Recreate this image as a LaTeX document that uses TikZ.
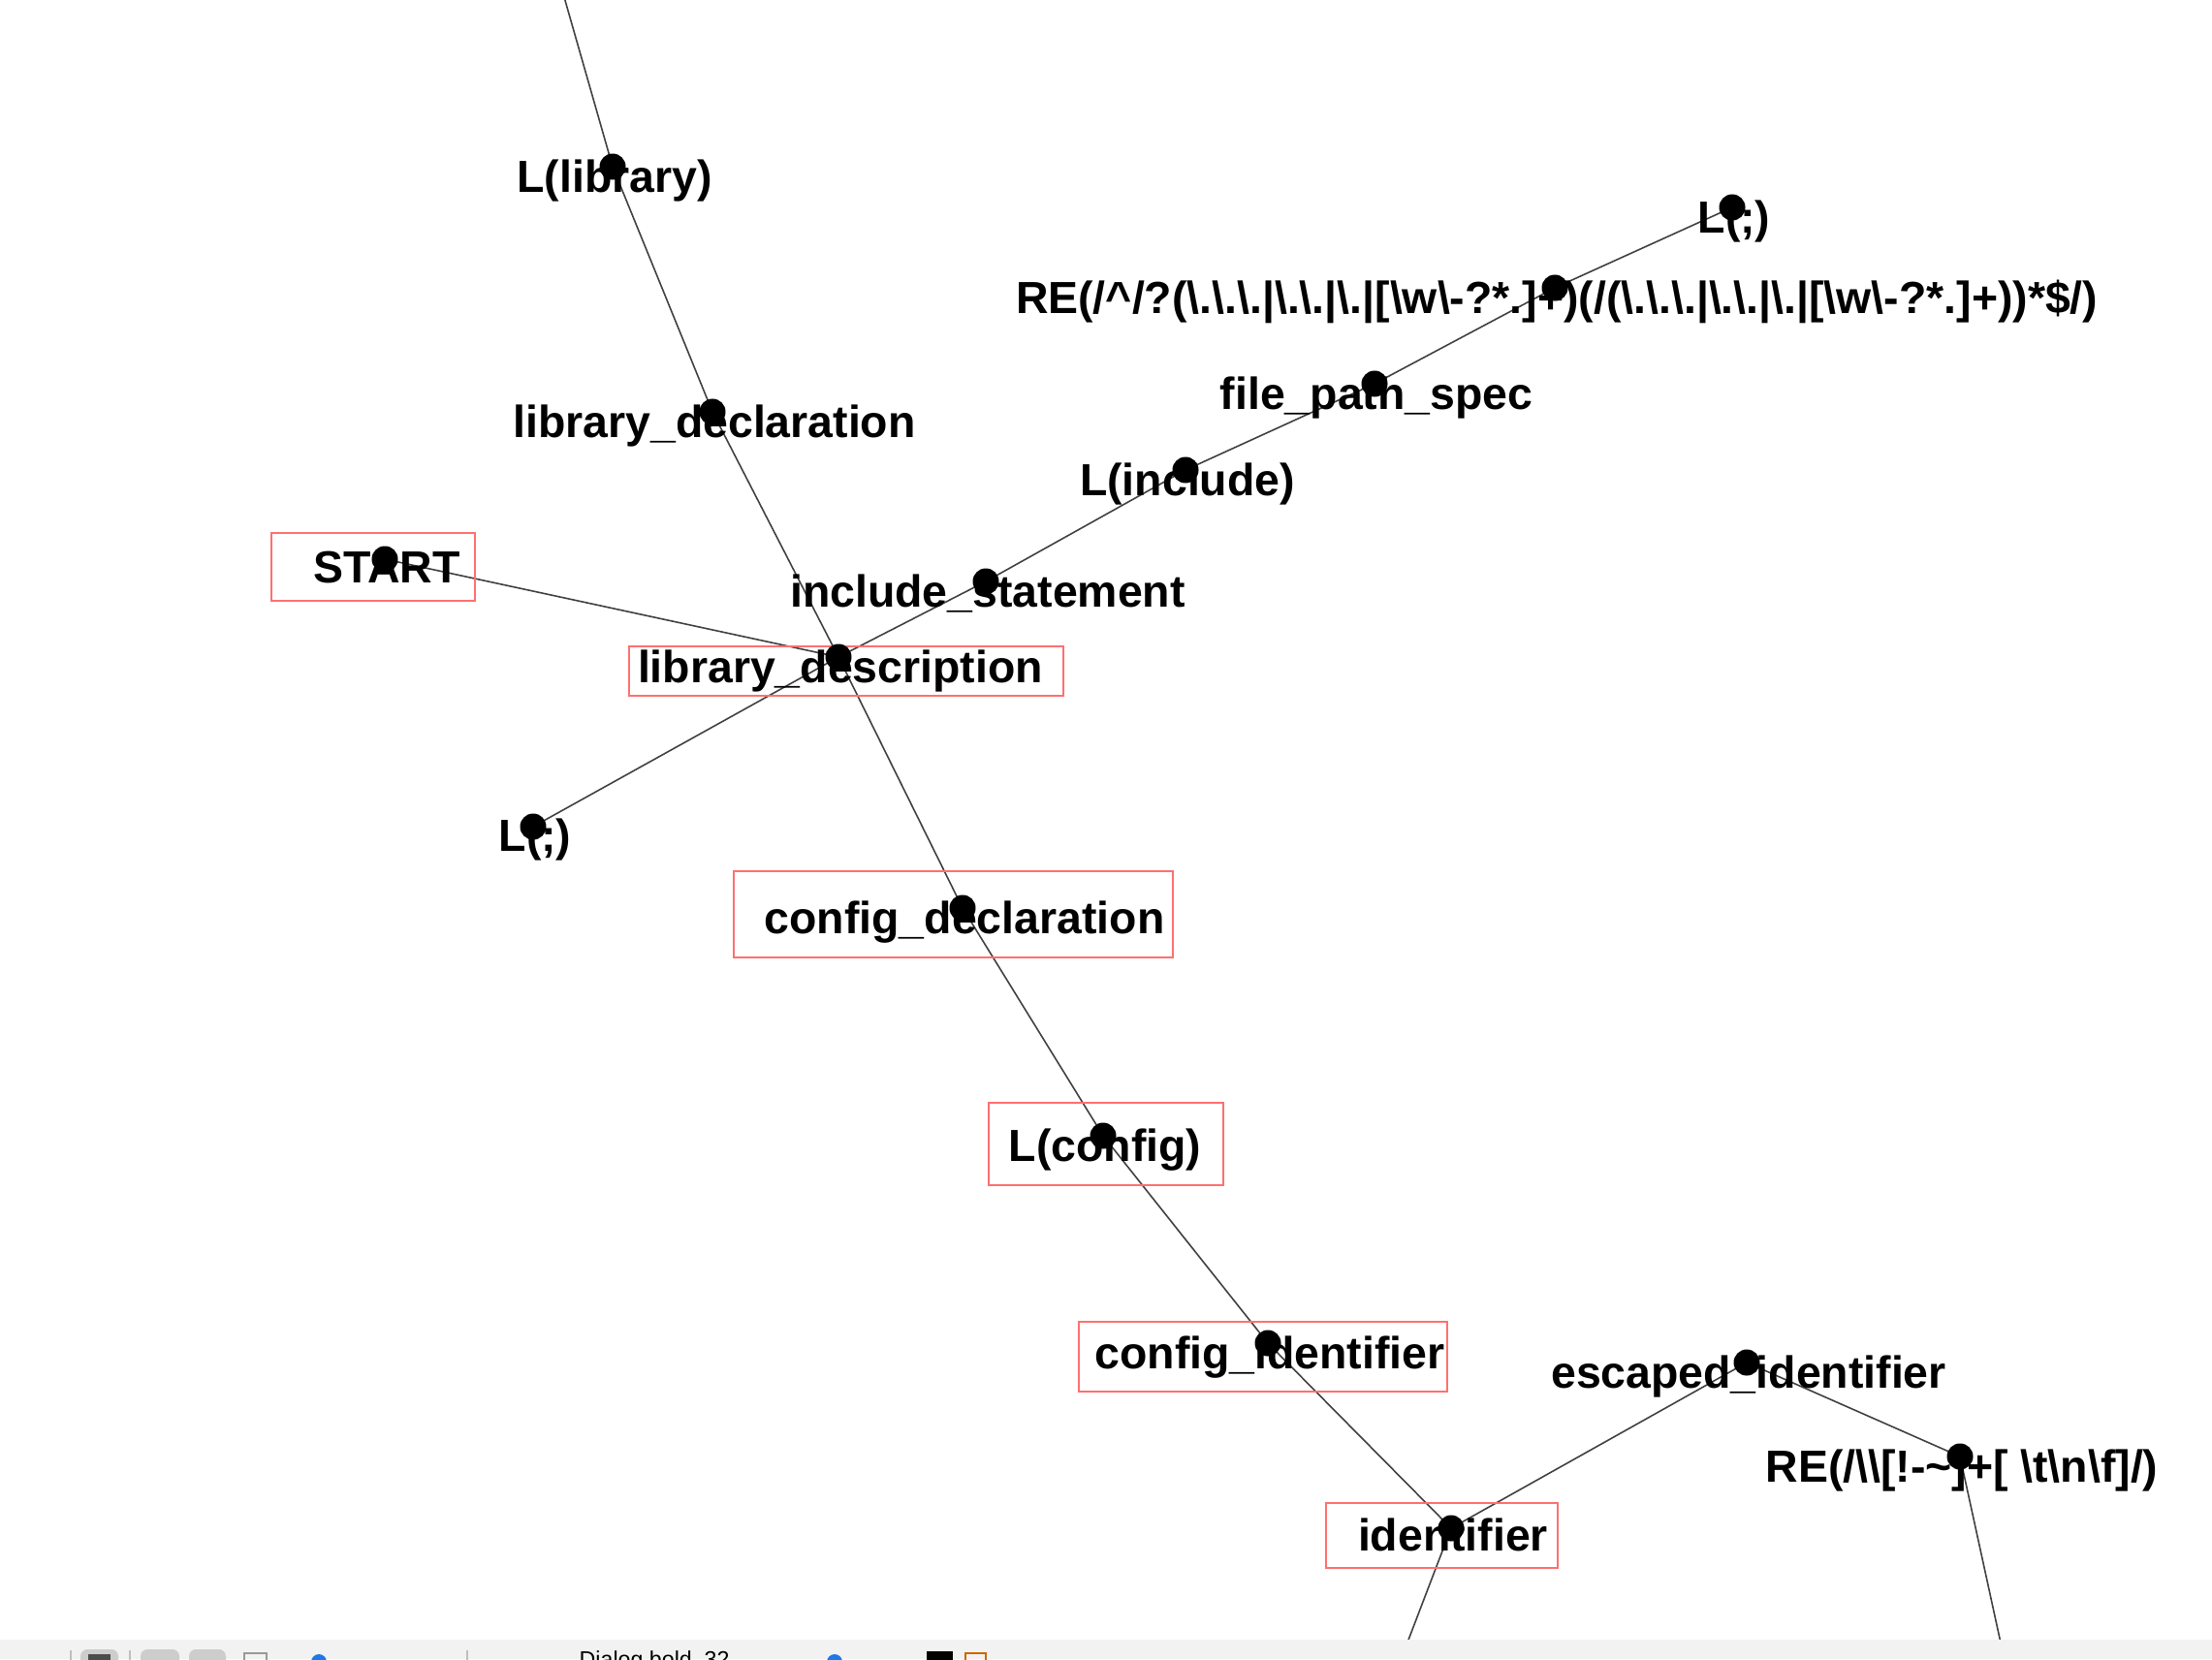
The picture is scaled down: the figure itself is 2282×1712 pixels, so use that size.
\documentclass[tikz,border=0pt]{standalone}
\usepackage{fontspec}
\setmainfont{Liberation Sans}
\newcommand{\BSL}{\textbackslash{}}
\definecolor{boxred}{RGB}{255,112,112}
\definecolor{barbg}{RGB}{242,242,242}
\definecolor{btngray}{RGB}{205,205,205}
\definecolor{iconblue}{RGB}{30,120,230}
\begin{document}
\begin{tikzpicture}[x=0.01cm,y=-0.01cm,
  edge/.style={draw=black!75, line width=0.45pt},
  dotnode/.style={circle, fill=black, inner sep=0pt, minimum size=0.27cm},
  lbl/.style={font=\fontsize{13.2}{15}\selectfont\bfseries, anchor=base, inner sep=0pt},
  redbox/.style={draw=boxred, line width=0.6pt, rectangle, inner sep=0pt},
]
\useasboundingbox (0,0) rectangle (2282,1712);
\clip (0,0) rectangle (2282,1712);
\fill[white] (0,0) rectangle (2282,1712);

% vertex positions
\coordinate (top)     at (580,-10);
\coordinate (llib)    at (632,172);
\coordinate (libdecl) at (735,425);
\coordinate (start)   at (397,577);
\coordinate (libdesc) at (865,678);
\coordinate (incl)    at (1017,600);
\coordinate (linc)    at (1223,485);
\coordinate (fps)     at (1418,396);
\coordinate (re1)     at (1604,297);
\coordinate (semi1)   at (1787,214);
\coordinate (semi2)   at (550,853);
\coordinate (cfgdecl) at (993,937);
\coordinate (lcfg)    at (1138,1172);
\coordinate (cfgid)   at (1308,1386);
\coordinate (ident)   at (1497,1577);
\coordinate (escid)   at (1802,1406);
\coordinate (re2)     at (2022,1503);
\coordinate (bot1)    at (1450,1700);
\coordinate (bot2)    at (2065,1700);

% edges
\draw[edge] (top) -- (llib);
\draw[edge] (llib) -- (libdecl);
\draw[edge] (libdecl) -- (libdesc);
\draw[edge] (start) -- (libdesc);
\draw[edge] (semi2) -- (libdesc);
\draw[edge] (libdesc) -- (incl);
\draw[edge] (incl) -- (linc);
\draw[edge] (linc) -- (fps);
\draw[edge] (fps) -- (re1);
\draw[edge] (re1) -- (semi1);
\draw[edge] (libdesc) -- (cfgdecl);
\draw[edge] (cfgdecl) -- (lcfg);
\draw[edge] (lcfg) -- (cfgid);
\draw[edge] (cfgid) -- (ident);
\draw[edge] (ident) -- (escid);
\draw[edge] (escid) -- (re2);
\draw[edge] (ident) -- (bot1);
\draw[edge] (re2) -- (bot2);

% highlight boxes
\node[redbox, minimum width=2.10cm, minimum height=0.70cm] (b-start)   at (385,585) {};
\node[redbox, minimum width=4.48cm, minimum height=0.51cm] (b-libdesc) at (873,692.5) {};
\node[redbox, minimum width=4.53cm, minimum height=0.89cm] (b-cfgdecl) at (983.5,943.5) {};
\node[redbox, minimum width=2.42cm, minimum height=0.85cm] (b-lcfg)    at (1141,1180.5) {};
\node[redbox, minimum width=3.80cm, minimum height=0.72cm] (b-cfgid)   at (1303,1400) {};
\node[redbox, minimum width=2.39cm, minimum height=0.67cm] (b-ident)   at (1487.5,1584.5) {};

% labels
\node[lbl] (t-start)   at (399,601)   {START};
\node[lbl] (t-libdesc) at (867,704)   {library\_description};
\node[lbl] (t-libdecl) at (737,451)   {library\_declaration};
\node[lbl] (t-llib)    at (634,198)   {L(library)};
\node[lbl] (t-incl)    at (1019,626)  {include\_statement};
\node[lbl] (t-linc)    at (1225,511)  {L(include)};
\node[lbl] (t-fps)     at (1420,422)  {file\_path\_spec};
\node[lbl] (t-re1)     at (1606,323)  {RE(/\textasciicircum/?(\BSL.\BSL.\BSL.|\BSL.\BSL.|\BSL.|[\BSL w\BSL-?*.]+)(/(\BSL.\BSL.\BSL.|\BSL.\BSL.|\BSL.|[\BSL w\BSL-?*.]+))*\$/)};
\node[lbl] (t-semi1)   at (1789,240)  {L(;)};
\node[lbl] (t-semi2)   at (552,878)   {L(;)};
\node[lbl] (t-cfgdecl) at (995,963)   {config\_declaration};
\node[lbl] (t-lcfg)    at (1140,1198) {L(config)};
\node[lbl] (t-cfgid)   at (1310,1412) {config\_identifier};
\node[lbl] (t-ident)   at (1499,1600) {identifier};
\node[lbl] (t-escid)   at (1804,1432) {escaped\_identifier};
\node[lbl] (t-re2)     at (2024,1529) {RE(/\BSL\BSL[!-\textasciitilde]+[ \BSL t\BSL n\BSL f]/)};

% vertex dots
\foreach \v in {llib,libdecl,start,libdesc,incl,linc,fps,re1,semi1,semi2,cfgdecl,lcfg,cfgid,ident,escid,re2}
  \node[dotnode] (d-\v) at (\v) {};

% cut-off toolbar strip at the bottom
\fill[barbg] (0,1692) rectangle (2282,1712);
\draw[black!25, line width=0.4pt] (73,1703) -- (73,1720);
\draw[black!25, line width=0.4pt] (134,1703) -- (134,1720);
\draw[black!25, line width=0.4pt] (482,1703) -- (482,1720);
\fill[btngray, rounded corners=2pt] (83,1702) rectangle (122,1725);
\fill[black!70] (91,1707) rectangle (114,1725);
\fill[btngray, rounded corners=2pt] (145,1702) rectangle (185,1725);
\fill[btngray, rounded corners=2pt] (195,1702) rectangle (233,1725);
\draw[black!40, line width=0.4pt] (252,1706) rectangle (275,1725);
\fill[iconblue] (329,1715) circle (8);
\fill[iconblue] (861,1715) circle (8);
\node[anchor=north west, inner sep=0pt, font=\fontsize{6.6}{8}\selectfont] (t-bar) at (597,1703) {Dialog.bold, 32};
\fill[black] (956,1704) rectangle (983,1725);
\draw[orange!80!black, line width=0.5pt] (996,1706) rectangle (1017,1725);
\end{tikzpicture}
\end{document}
